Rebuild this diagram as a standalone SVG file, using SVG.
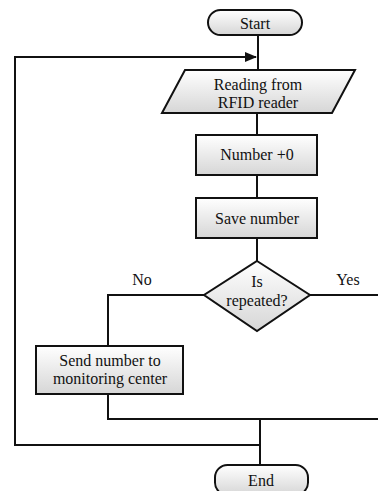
<svg xmlns="http://www.w3.org/2000/svg" width="378" height="491" viewBox="0 0 378 491">
  <defs>
    <linearGradient id="shade" x1="0" y1="0" x2="0" y2="1">
      <stop offset="0" stop-color="#ffffff"/>
      <stop offset="1" stop-color="#d6d6d6"/>
    </linearGradient>
    <marker id="arrow" markerWidth="12" markerHeight="10" refX="11" refY="5" orient="auto" markerUnits="userSpaceOnUse">
      <path d="M0,0 L12,5 L0,10 Z" fill="#111"/>
    </marker>
  </defs>
  <style>
    .shape { fill: url(#shade); stroke: #111; stroke-width: 2; }
    .line { fill: none; stroke: #111; stroke-width: 2; }
  </style>
  <rect width="378" height="491" fill="#fff"/>

  <g font-family="Times New Roman, Liberation Serif, DejaVu Serif, serif" font-size="16" fill="#111" text-anchor="middle">
    <!-- connectors -->
    <g id="connectors">
      <line class="line" x1="258" y1="35" x2="258" y2="70"/>
      <path class="line" d="M260,419 V445 H15 V57 H256" marker-end="url(#arrow)"/>
      <line class="line" x1="257" y1="113" x2="257" y2="135"/>
      <line class="line" x1="257" y1="175" x2="257" y2="198"/>
      <line class="line" x1="257" y1="238" x2="257" y2="261"/>
      <path class="line" d="M204,295 H108 V346"/>
      <path class="line" d="M310,295 H380 V419 H108 V394"/>
      <line class="line" x1="260" y1="445" x2="260" y2="465"/>
      <text x="142" y="285">No</text>
      <text x="348" y="285">Yes</text>
    </g>

    <g id="start">
      <rect class="shape" x="208" y="10" width="94" height="25" rx="12.5"/>
      <text x="255" y="29">Start</text>
    </g>

    <g id="read">
      <polygon class="shape" points="185,70 355,70 332,113 162,113"/>
      <text x="258" y="90">Reading from</text>
      <text x="258" y="108">RFID reader</text>
    </g>

    <g id="number">
      <rect class="shape" x="196" y="135" width="121" height="40"/>
      <text x="257" y="160">Number +0</text>
    </g>

    <g id="save">
      <rect class="shape" x="196" y="198" width="121" height="40"/>
      <text x="257" y="224">Save number</text>
    </g>

    <g id="decision">
      <polygon class="shape" points="257,261 310,295 257,331 204,295"/>
      <text x="257" y="287">Is</text>
      <text x="257" y="306">repeated?</text>
    </g>

    <g id="send">
      <rect class="shape" x="36" y="346" width="147" height="48"/>
      <text x="110" y="366">Send number to</text>
      <text x="110" y="384">monitoring center</text>
    </g>

    <g id="end">
      <rect class="shape" x="215" y="465" width="93" height="30" rx="12.5"/>
      <text x="261" y="486">End</text>
    </g>
  </g>
</svg>
